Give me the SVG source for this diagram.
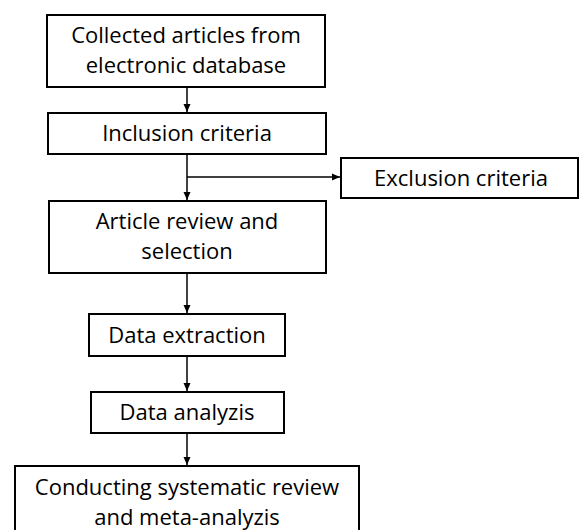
<svg xmlns="http://www.w3.org/2000/svg" width="579" height="530" viewBox="0 0 579 530">
<style>
.box{fill:#fff;stroke:#000;stroke-width:2}
.t{font-family:"Open Sans","Liberation Sans",Arial,sans-serif;font-size:22px;fill:#000;text-anchor:middle}
.c{stroke:#000;stroke-width:1.5;fill:none}
</style>
<defs>
<marker id="ah" markerWidth="9" markerHeight="9" refX="8" refY="4.5" orient="auto" markerUnits="userSpaceOnUse">
<path d="M0,1 L8,4.5 L0,8 Z" fill="#000"/>
</marker>
</defs>
<rect width="579" height="530" fill="#fff"/>
<g id="connectors">
<line class="c" x1="187" y1="87" x2="187" y2="112" marker-end="url(#ah)"/>
<line class="c" x1="187" y1="154" x2="187" y2="200" marker-end="url(#ah)"/>
<line class="c" x1="187" y1="177" x2="340" y2="177" marker-end="url(#ah)"/>
<line class="c" x1="187" y1="273" x2="187" y2="313" marker-end="url(#ah)"/>
<line class="c" x1="187" y1="356" x2="187" y2="391" marker-end="url(#ah)"/>
<line class="c" x1="187" y1="433" x2="187" y2="465" marker-end="url(#ah)"/>
</g>
<g id="n1">
<rect class="box" x="47" y="15" width="278" height="72"/>
<text class="t" x="186" y="43">Collected articles from</text>
<text class="t" x="186" y="73">electronic database</text>
</g>
<g id="n2">
<rect class="box" x="48" y="113" width="278" height="41"/>
<text class="t" x="187" y="141">Inclusion criteria</text>
</g>
<g id="n3">
<rect class="box" x="341" y="158" width="237" height="40"/>
<text class="t" x="461" y="186">Exclusion criteria</text>
</g>
<g id="n4">
<rect class="box" x="49" y="201" width="277" height="72"/>
<text class="t" x="187" y="229">Article review and</text>
<text class="t" x="187" y="259">selection</text>
</g>
<g id="n5">
<rect class="box" x="89" y="314" width="196" height="42"/>
<text class="t" x="187" y="343">Data extraction</text>
</g>
<g id="n6">
<rect class="box" x="91" y="392" width="193" height="41"/>
<text class="t" x="187" y="420">Data analyzis</text>
</g>
<g id="n7">
<rect class="box" x="15" y="466" width="344" height="80"/>
<text class="t" x="187" y="495">Conducting systematic review</text>
<text class="t" x="187" y="525">and meta-analyzis</text>
</g>
</svg>
